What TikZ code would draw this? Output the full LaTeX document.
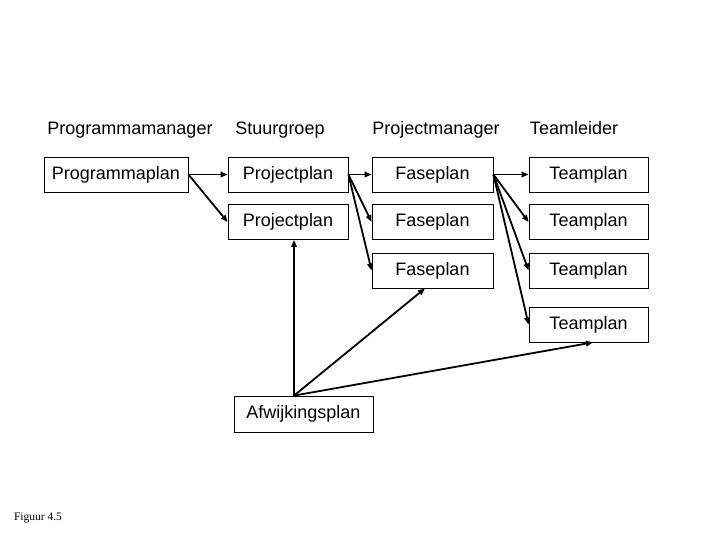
\documentclass[tikz,border=0pt]{standalone}
\usepackage{fontspec}
\setmainfont{Liberation Sans}
\newfontfamily\figfont{Liberation Serif}
\usetikzlibrary{arrows.meta}

\tikzset{
    plan/.style={draw, line width=0.8pt, minimum height=35pt, inner sep=0pt,
        font=\fontsize{18}{20}\selectfont},
    role/.style={anchor=base, font=\fontsize{18}{20}\selectfont},
    flow/.style={line width=1.8pt, -{Triangle[length=7pt,width=5.5pt]}}
}

\begin{document}
\begin{tikzpicture}[x=1pt, y=-1pt]
    \useasboundingbox (0,0) rectangle (720,540);

    % kolomkoppen
    \node[role] (hpgm) at (130,134.5) {Programmamanager};
    \node[role] (hstg) at (280,134.5) {Stuurgroep};
    \node[role] (hpm)  at (436,134.5) {Projectmanager};
    \node[role] (htl)  at (574,134.5) {Teamleider};

    % plannen
    \node[plan, minimum width=144pt] (pgm) at (116,174.5) {Programmaplan};
    \foreach \i/\y in {1/174.5, 2/222} {
        \node[plan, minimum width=120pt] (prj\i) at (288,\y) {Projectplan};
    }
    \foreach \i/\y in {1/174.5, 2/222, 3/270.5} {
        \node[plan, minimum width=121pt] (fase\i) at (432.5,\y) {Faseplan};
    }
    \foreach \i/\y in {1/174.5, 2/222, 3/270.5, 4/324.5} {
        \node[plan, minimum width=119pt] (team\i) at (588.5,\y) {Teamplan};
    }
    \node[plan, minimum width=139pt, minimum height=36pt] (afw) at (303.5,414) {Afwijkingsplan};

    % pijlen
    \foreach \i in {1,2} \draw[flow] (pgm.east) -- (prj\i.west);
    \foreach \i in {1,2,3} \draw[flow] (prj1.east) -- (fase\i.west);
    \foreach \i in {1,2,3,4} \draw[flow] (fase1.east) -- (team\i.west);

    \coordinate (afwtop) at ([xshift=-9.5pt]afw.north);
    \draw[flow] (afwtop) -- ([xshift=6pt]prj2.south);
    \draw[flow] (afwtop) -- ([xshift=-7.5pt]fase3.south);
    \draw[flow] (afwtop) -- ([xshift=4.5pt]team4.south);

    \node[font=\figfont\fontsize{11.5}{13}\selectfont] (fig) at (38,518) {Figuur 4.5};
\end{tikzpicture}
\end{document}
